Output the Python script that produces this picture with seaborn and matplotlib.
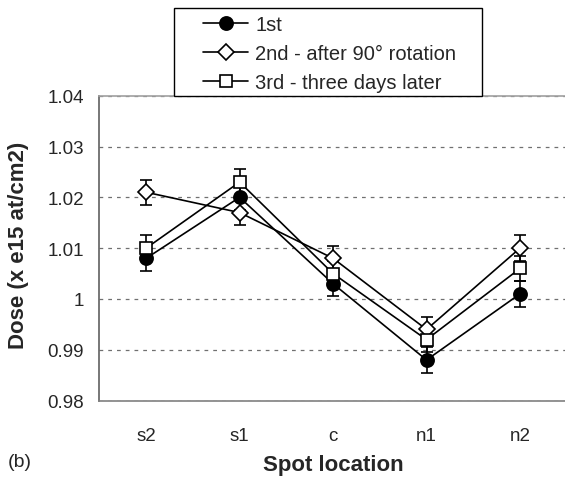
import pandas as pd
import seaborn as sns
import matplotlib.pyplot as plt
from matplotlib.patches import Rectangle
from matplotlib.ticker import FuncFormatter

# values
locations = ['s2', 's1', 'c', 'n1', 'n2']
dose_1st = [1.008, 1.020, 1.003, 0.988, 1.001]
dose_2nd = [1.021, 1.017, 1.008, 0.994, 1.010]
dose_3rd = [1.010, 1.023, 1.005, 0.992, 1.006]
err_1st = [0.0025, 0.0025, 0.0025, 0.0025, 0.0025]
err_2nd = [0.0025, 0.0025, 0.0025, 0.0025, 0.0025]
err_3rd = [0.0025, 0.0025, 0.0025, 0.0025, 0.0025]
run_names = ['1st', '2nd - after 90° rotation', '3rd - three days later']
y_ticks = [0.98, 0.99, 1.00, 1.01, 1.02, 1.03, 1.04]

df = pd.DataFrame({
    'location': locations * 3,
    'dose': dose_1st + dose_2nd + dose_3rd,
    'err': err_1st + err_2nd + err_3rd,
    'run': [run_names[0]] * 5 + [run_names[1]] * 5 + [run_names[2]] * 5,
})

sns.set_style('white')
plt.rcParams['font.family'] = ['Liberation Sans', 'DejaVu Sans']

fig = plt.figure(figsize=(5.65, 4.81), dpi=100)
ax = fig.add_axes([0.176, 0.165, 0.827, 0.634])

styles = {
    run_names[0]: dict(marker='o', markerfacecolor='black', markersize=9.5),
    run_names[1]: dict(marker='D', markerfacecolor='white', markersize=8),
    run_names[2]: dict(marker='s', markerfacecolor='white', markersize=8.5),
}

for name in run_names:
    sub = df[df['run'] == name]
    sns.lineplot(data=sub, x='location', y='dose', color='black', linewidth=1.2,
                 markeredgecolor='black', markeredgewidth=1.2, label=name,
                 sort=False, ax=ax, zorder=3, **styles[name])
    ax.errorbar(sub['location'], sub['dose'], yerr=sub['err'], fmt='none',
                ecolor='black', elinewidth=1.2, capsize=4.3, capthick=1.2, zorder=2)

handles, labels = ax.get_legend_handles_labels()
ax.get_legend().remove()

ax.set_xlim(-0.5, 4.5)
ax.set_ylim(0.98, 1.04)
ax.set_yticks(y_ticks)
ax.yaxis.set_major_formatter(FuncFormatter(lambda v, p: '%g' % round(v, 2)))
ax.set_xticks(range(len(locations)))
ax.set_xticklabels(locations)
ax.set_xticks([0.5, 1.5, 2.5, 3.5], minor=True)
ax.tick_params(axis='x', which='major', length=0, labelsize=13.5, pad=19)
ax.tick_params(axis='x', which='minor', length=6, width=1, color='#808080', direction='out')
ax.tick_params(axis='y', length=5, width=1, color='#606060', direction='out', labelsize=13.5, pad=6)

ax.yaxis.grid(True, linestyle=(0, (3, 4)), color='#707070', linewidth=0.9)
ax.xaxis.grid(False)
ax.spines['left'].set_color('#606060')
ax.spines['bottom'].set_color('#808080')
ax.spines['top'].set_color('#a0a0a0')
ax.spines['right'].set_visible(False)
for s in ['left', 'bottom', 'top']:
    ax.spines[s].set_linewidth(1.2)

ax.set_xlabel('Spot location', fontsize=16, fontweight='bold', labelpad=7)
ax.set_ylabel('Dose (x e15 at/cm2)', fontsize=16, fontweight='bold')
ax.yaxis.set_label_coords(-0.151, 0.514)

fig.text(8 / 565, 1 - 463 / 481, '(b)', fontsize=14, va='center', ha='left')

# legend box drawn over the top of the plot area
fig.add_artist(Rectangle((174 / 565, 1 - 97 / 481), 308 / 565, 88 / 481,
                         transform=fig.transFigure, facecolor='white',
                         edgecolor='black', linewidth=1, zorder=3))
fig.legend(handles, labels, loc='upper left', bbox_to_anchor=(203 / 565, 1 - 16 / 481),
           frameon=False, fontsize=14.5, handlelength=2.25, handletextpad=0.34,
           labelspacing=0.5, borderpad=0, borderaxespad=0)

fig.savefig('out.png', dpi=100)
